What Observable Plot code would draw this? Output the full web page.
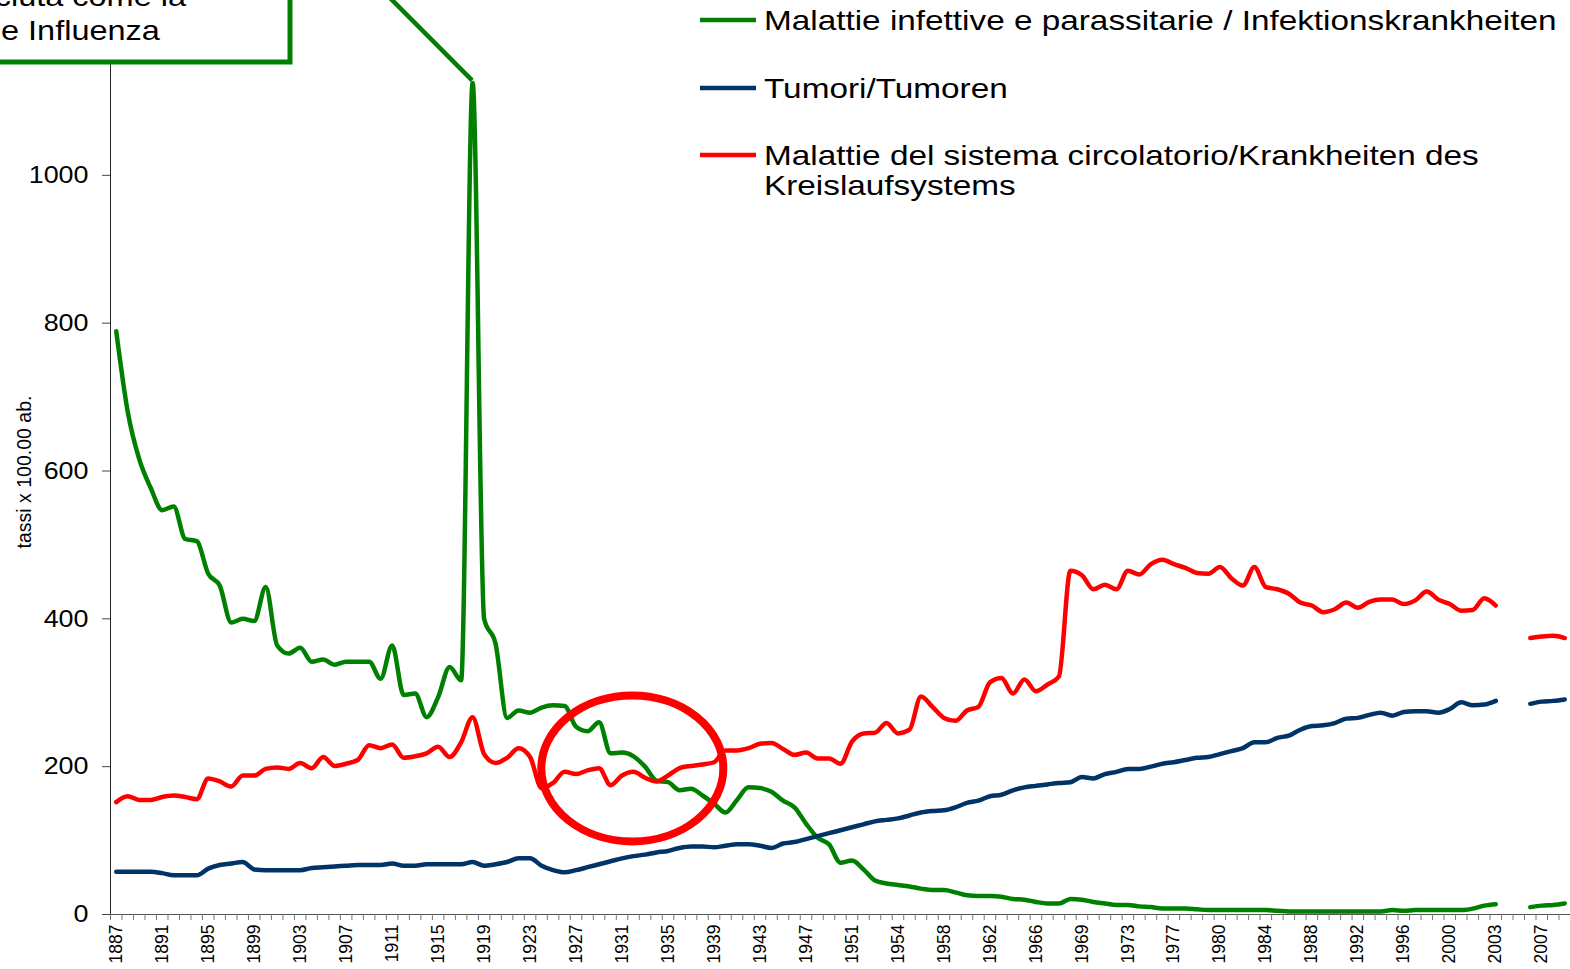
<!DOCTYPE html>
<html><head><meta charset="utf-8">
<script src="https://cdn.jsdelivr.net/npm/d3@7"></script>
<script src="https://cdn.jsdelivr.net/npm/@observablehq/plot@0.6"></script>
<style>
html,body{margin:0;padding:0;background:#fff;overflow:hidden;}
#wrap{position:relative;width:1570px;height:969px;overflow:hidden;}
svg{display:block;}
</style></head><body><div id="wrap"></div>
<script>
// category labels (ICD revision years appear twice)
const years = [
"1887","1888","1889","1890","1891","1892","1893","1894","1895","1896","1897","1898","1899","1900","1901","1902","1903","1904","1905","1906",
"1907","1908","1909","1910","1911","1912","1913","1914","1915","1916","1917","1918","1919","1920","1921","1922","1923","1924","1925","1926",
"1927","1928","1929","1930","1931","1932","1933","1934","1935","1936","1937","1938","1939","1940","1941","1942","1943","1944","1945","1946",
"1947","1948","1949","1950","1951","1951","1952","1953","1954","1955","1956","1957","1958","1959","1960","1961","1962","1963","1964","1965",
"1966","1967","1968","1968","1969","1970","1971","1972","1973","1974","1975","1976","1977","1978","1979","1979","1980","1981","1982","1983",
"1984","1985","1986","1987","1988","1989","1990","1991","1992","1993","1994","1995","1996","1997","1998","1999","2000","2001","2002","2003",
"2003","2004","2005","2006","2007","2008","2009"];
const labelPositions = [0,4,8,12,16,20,24,28,32,36,40,44,48,52,56,60,64,68,72,76,80,84,88,92,96,100,104,108,112,116,120,124];

const infettive = [
789,680,616,577,547,552,508,505,461,445,395,400,397,443,364,353,361,342,345,338,
342,342,342,319,364,297,299,267,294,335,317,1125,400,366,266,276,273,280,283,282,
254,248,260,218,219,214,200,181,179,168,170,161,150,138,155,172,171,166,154,145,
123,104,95,70,73,61,46,42,40,38,35,33,33,30,26,25,25,24,21,20,
17,15,15,21,20,17,15,13,13,11,10,8,8,8,7,6,6,6,6,6,
6,5,4,4,4,4,4,4,4,4,4,6,5,6,6,6,6,6,8,12,
14,null,null,10,12,13,15];
const tumori = [
58,58,58,58,56,53,53,53,62,67,69,71,61,60,60,60,60,63,64,65,
66,67,67,67,69,66,66,68,68,68,68,71,66,68,71,76,76,66,60,57,
60,64,68,72,76,79,81,84,86,90,92,92,91,93,95,95,93,90,96,98,
102,106,110,114,118,122,126,128,130,134,138,140,141,145,151,154,160,162,168,172,
174,176,178,179,186,184,190,193,197,197,200,204,206,209,212,213,217,221,225,233,
233,239,242,250,255,256,259,265,266,270,273,269,274,275,275,273,278,287,283,284,
289,null,null,285,288,289,291];
const circolatorio = [
152,160,155,155,159,161,159,156,184,180,173,188,188,197,199,197,205,198,213,201,
204,209,229,225,230,212,214,218,227,213,233,267,217,205,212,225,213,171,178,193,
190,195,198,175,188,193,185,180,188,198,201,203,206,222,222,225,231,232,224,216,
219,211,211,204,234,245,246,259,245,250,295,281,266,262,276,281,314,320,299,318,
302,311,322,465,459,440,446,440,465,460,474,480,474,469,462,461,470,455,445,470,
443,440,434,422,418,409,413,422,415,423,426,426,420,425,437,426,420,411,412,428,
418,null,null,374,376,377,374];

const yTicks = [0,200,400,600,800,1000];
const seriesNames = [
  ["Malattie infettive e parassitarie / Infektionskrankheiten"],
  ["Tumori/Tumoren"],
  ["Malattie del sistema circolatorio/Krankheiten des","Kreislaufsystems"]
];
const seriesColors = ["#008000","#003366","#ff0000"];
const yTitle = "tassi x 100.00 ab.";
const noteLines = ["conosciuta come la","e Influenza"];
const peakIndex = 31;

const n = years.length;
const boundaries = d3.range(n + 1).map(k => k - 0.5);
const font = "'Liberation Sans', Arial, sans-serif";

const chart = Plot.plot({
  width: 1570, height: 969,
  marginLeft: 110, marginRight: 0, marginTop: 27, marginBottom: 55,
  x: {type: "linear", domain: [-0.5, n - 0.5], axis: null},
  y: {domain: [0, 1200], axis: null},
  style: {fontFamily: font, background: "white", color: "black"},
  marks: [
    Plot.ruleY([0], {stroke: "#555", strokeWidth: 1.2}),
    Plot.ruleX([-0.5], {stroke: "#222", strokeWidth: 1}),
    Plot.axisY({ticks: yTicks, tickSize: 8, tickPadding: 14, fontSize: 24, label: null, color: "#444", tickFormat: d => String(d)}),
    Plot.axisX({ticks: boundaries, tickSize: 6, tickFormat: () => "", label: null, color: "#777"}),
    Plot.axisX({ticks: labelPositions, tickSize: 0, tickPadding: 10, tickRotate: -90, fontSize: 17.5, label: null, tickFormat: i => years[i], color: "black"}),
    Plot.line(infettive, {x: (d, i) => i, y: d => d, stroke: seriesColors[0], strokeWidth: 4.5, curve: "monotone-x"}),
    Plot.line(tumori, {x: (d, i) => i, y: d => d, stroke: seriesColors[1], strokeWidth: 4.5, curve: "monotone-x"}),
    Plot.line(circolatorio, {x: (d, i) => i, y: d => d, stroke: seriesColors[2], strokeWidth: 4.5, curve: "monotone-x"})
  ]
});
document.getElementById("wrap").appendChild(chart);

const svg = d3.select(chart);
const xs = chart.scale("x"), ys = chart.scale("y");
// y tick labels: black, horizontally stretched like the reference
svg.selectAll('g[aria-label="y-axis tick label"] text').each(function() {
  const t = this.getAttribute("transform") || "";
  this.setAttribute("transform", t + " scale(1.12,1)");
});
svg.selectAll('g[aria-label="y-axis tick label"]').attr("fill", "black");

// y title
svg.append("text").attr("transform", "translate(31,472) rotate(-90)")
  .attr("text-anchor", "middle").attr("font-family", font).attr("font-size", 19.5)
  .attr("fill", "black").text(yTitle);

// red ellipse
const cx = (xs.apply(44) + xs.apply(45)) / 2 + 5;
svg.append("ellipse").attr("cx", cx).attr("cy", ys.apply(197))
  .attr("rx", 91).attr("ry", 73).attr("fill", "none").attr("stroke", "#ff0000").attr("stroke-width", 8);

// annotation connector + box
const px = xs.apply(peakIndex), py = ys.apply(infettive[peakIndex]);
svg.append("line").attr("x1", px - 88).attr("y1", -8).attr("x2", px).attr("y2", py - 2)
  .attr("stroke", "#008000").attr("stroke-width", 4.5);
svg.append("rect").attr("x", -20).attr("y", -20).attr("width", 310).attr("height", 82)
  .attr("fill", "white").attr("stroke", "#008000").attr("stroke-width", 5);
svg.append("text").attr("transform", "translate(186,6) scale(1.16,1)").attr("text-anchor", "end")
  .attr("font-family", font).attr("font-size", 28).attr("fill", "black").text(noteLines[0]);
svg.append("text").attr("transform", "translate(1,40) scale(1.16,1)").attr("text-anchor", "start")
  .attr("font-family", font).attr("font-size", 28).attr("fill", "black").text(noteLines[1]);

// legend
const legendY = [20, 88, 155];
seriesNames.forEach((lines, k) => {
  svg.append("line").attr("x1", 700).attr("x2", 756).attr("y1", legendY[k]).attr("y2", legendY[k])
    .attr("stroke", seriesColors[k]).attr("stroke-width", 4.5);
  lines.forEach((ln, j) => {
    svg.append("text").attr("transform", `translate(764,${legendY[k] + 10 + j * 30}) scale(1.19,1)`)
      .attr("text-anchor", "start")
      .attr("font-family", font).attr("font-size", 28).attr("fill", "black").text(ln);
  });
});
</script></body></html>
